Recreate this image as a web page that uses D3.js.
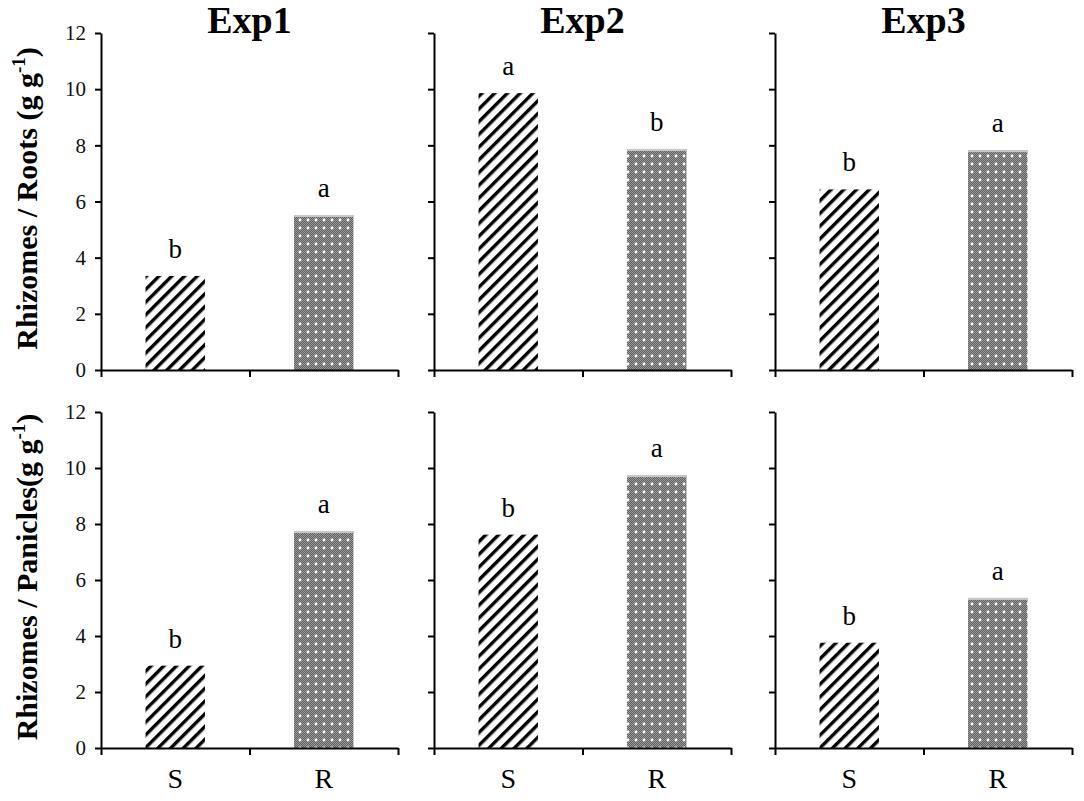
<!DOCTYPE html>
<html>
<head>
<meta charset="utf-8">
<script src="https://cdn.jsdelivr.net/npm/d3@7"></script>
<style>
  body { margin: 0; background: #fff; }
  text { font-family: "Liberation Serif", "Times New Roman", serif; }
</style>
</head>
<body>
<svg width="1084" height="801"></svg>
<script>
let svg = d3.select("svg");

// data
let experiments = ["Exp1", "Exp2", "Exp3"];
let groups = ["S", "R"];
let rootsValues = [[3.35, 5.52], [9.86, 7.87], [6.43, 7.83]];
let rootsLetters = [["b", "a"], ["a", "b"], ["b", "a"]];
let paniclesValues = [[2.94, 7.75], [7.62, 9.75], [3.76, 5.36]];
let paniclesLetters = [["b", "a"], ["b", "a"], ["b", "a"]];
let yTicks = [0, 2, 4, 6, 8, 10, 12];

let aux = {
  colX: [101, 434, 775],
  colW: 297,
  rows: [
    { top: 33, bottom: 370, label: "Rhizomes / Roots (g g", values: rootsValues, letters: rootsLetters },
    { top: 412, bottom: 748, label: "Rhizomes / Panicles(g g", values: paniclesValues, letters: paniclesLetters },
  ],
};

// patterns
let defs = svg.append("defs");

let hatch = defs.append("pattern")
  .attr("id", "hatch")
  .attr("patternUnits", "userSpaceOnUse")
  .attr("width", 9)
  .attr("height", 9)
  .attr("patternTransform", "rotate(45)");
hatch.append("rect").attr("width", 9).attr("height", 9).attr("fill", "white");
hatch.append("rect").attr("x", 0).attr("y", 0).attr("width", 3.4).attr("height", 9).attr("fill", "black");

let dots = defs.append("pattern")
  .attr("id", "dots")
  .attr("patternUnits", "userSpaceOnUse")
  .attr("width", 8)
  .attr("height", 8);
dots.append("rect").attr("width", 8).attr("height", 8).attr("fill", "#5e5e5e");
// fine dither like the original
for (let i = 0; i < 8; i++) {
  for (let j = 0; j < 8; j++) {
    if ((i + j) % 2 == 0) {
      dots.append("rect").attr("x", i).attr("y", j).attr("width", 1).attr("height", 1).attr("fill", "#9c9c9c");
    }
  }
}
dots.append("circle").attr("cx", 4).attr("cy", 4).attr("r", 1.4).attr("fill", "white");

aux.rows.forEach((row, r) => {
  let y = d3.scaleLinear().domain([0, 12]).range([row.bottom, row.top]);

  experiments.forEach((exp, c) => {
    let x0 = aux.colX[c];
    let x = d3.scaleBand().domain(groups).range([x0, x0 + aux.colW]).paddingInner(0.6).paddingOuter(0.3);
    let xTicks = d3.scaleLinear().domain([0, 2]).range([x0, x0 + aux.colW]);

    let g = svg.append("g");

    // bars
    g.selectAll("rect.bar")
      .data(row.values[c])
      .join("rect")
      .attr("class", "bar")
      .attr("x", (_, i) => x(groups[i]))
      .attr("y", (d) => y(d))
      .attr("width", x.bandwidth())
      .attr("height", (d) => y(0) - y(d))
      .attr("fill", (_, i) => (i == 0 ? "url(#hatch)" : "url(#dots)"));

    // light top edge on the dotted bars
    g.append("rect")
      .attr("x", x("R"))
      .attr("y", y(row.values[c][1]))
      .attr("width", x.bandwidth())
      .attr("height", 2)
      .attr("fill", "#c8c8c8");

    // significance letters
    g.selectAll("text.letter")
      .data(row.letters[c])
      .join("text")
      .attr("class", "letter")
      .attr("x", (_, i) => x(groups[i]) + x.bandwidth() / 2)
      .attr("y", (_, i) => y(row.values[c][i]) - 18)
      .attr("text-anchor", "middle")
      .style("font-size", "27px")
      .text((d) => d);

    // y axis
    let yAxis = g.append("g")
      .attr("transform", `translate(${x0},0)`)
      .call(d3.axisLeft(y).tickValues(yTicks).tickSize(6).tickSizeOuter(0).tickPadding(9));
    yAxis.select(".domain").attr("stroke-width", 2);
    yAxis.selectAll(".tick line").attr("stroke-width", 2);
    yAxis.selectAll(".tick text")
      .style("font-family", "Liberation Serif, serif")
      .style("font-size", "21px")
      .attr("fill", "#111")
      .text((d) => (c == 0 ? d : ""));

    // x axis (tick marks between categories)
    let xAxis = g.append("g")
      .attr("transform", `translate(0,${y(0)})`)
      .call(d3.axisBottom(xTicks).tickValues([0, 1, 2]).tickSize(7).tickSizeOuter(0).tickFormat(""));
    xAxis.select(".domain").attr("stroke-width", 2);
    xAxis.selectAll(".tick line").attr("stroke-width", 2);

    if (r == 1) {
      g.selectAll("text.cat")
        .data(groups)
        .join("text")
        .attr("class", "cat")
        .attr("x", (d) => x(d) + x.bandwidth() / 2)
        .attr("y", y(0) + 40)
        .attr("text-anchor", "middle")
        .style("font-size", "28px")
        .text((d) => d);
    }

    if (r == 0) {
      g.append("text")
        .attr("x", x0 + aux.colW / 2)
        .attr("y", 33)
        .attr("text-anchor", "middle")
        .style("font-size", "38px")
        .attr("font-weight", "bold")
        .text(exp);
    }
  });

  // row y title
  let title = svg.append("text")
    .attr("transform", `translate(37,${(row.top + row.bottom) / 2 - 3}) rotate(-90)`)
    .attr("text-anchor", "middle")
    .style("font-size", "30px")
    .attr("font-weight", "bold");
  title.append("tspan").text(row.label);
  title.append("tspan").style("font-size", "19px").attr("dy", -12).text("-1");
  title.append("tspan").attr("dy", 12).text(")");
});
</script>
</body>
</html>
